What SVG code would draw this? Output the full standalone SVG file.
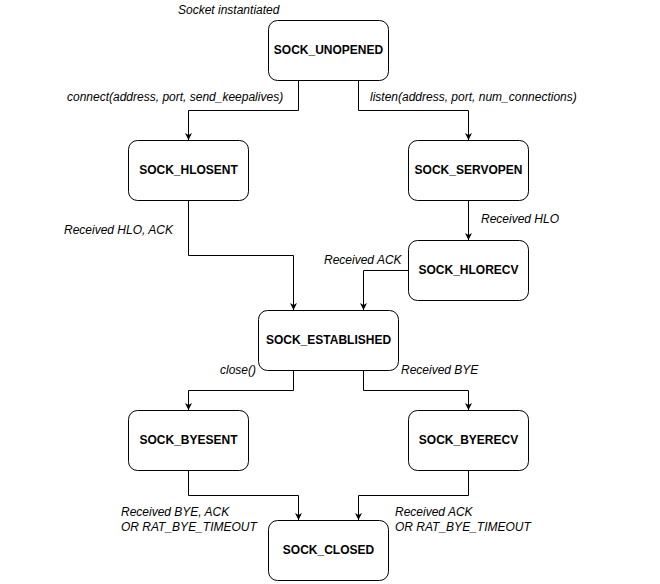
<svg xmlns="http://www.w3.org/2000/svg" width="660" height="584" viewBox="0 0 660 584">
<defs>
<marker id="arr" viewBox="0 0 10 10" refX="10" refY="5" markerWidth="7" markerHeight="7" markerUnits="userSpaceOnUse" orient="auto">
<path d="M0,0 L10,5 L0,10 L3,5 Z" fill="#000"/>
</marker>
<style>
.box{fill:#fff;stroke:#000;stroke-width:1}
.nt{font-family:"Liberation Sans",Arial,sans-serif;font-size:12px;font-weight:bold;text-anchor:middle;fill:#000}
.lb{font-family:"Liberation Sans",Arial,sans-serif;font-size:12px;font-style:italic;fill:#000}
.c{fill:none;stroke:#000;stroke-width:1;marker-end:url(#arr)}
</style>
</defs>
<rect width="660" height="584" fill="#fff"/>
<g id="connectors">
<path class="c" d="M298.5,80 V110.5 H188.5 V140"/>
<path class="c" d="M358.5,80 V110.5 H468.5 V140"/>
<path class="c" d="M188.5,200 V255.5 H293.5 V310"/>
<path class="c" d="M468.5,200 V240"/>
<path class="c" d="M408,270.5 H363.5 V310"/>
<path class="c" d="M293.5,370 V390.5 H188.5 V410"/>
<path class="c" d="M363.5,370 V390.5 H468.5 V410"/>
<path class="c" d="M188.5,470 V495.5 H298.5 V520"/>
<path class="c" d="M468.5,470 V495.5 H358.5 V520"/>
</g>
<g id="labels">
<text class="lb" x="178" y="14">Socket instantiated</text>
<text class="lb" x="67" y="101">connect(address, port, send_keepalives)</text>
<text class="lb" x="370" y="101">listen(address, port, num_connections)</text>
<text class="lb" x="64" y="234">Received HLO, ACK</text>
<text class="lb" x="481" y="223">Received HLO</text>
<text class="lb" x="324" y="264">Received ACK</text>
<text class="lb" x="256" y="374" text-anchor="end">close()</text>
<text class="lb" x="401" y="374">Received BYE</text>
<text class="lb" x="121" y="516">Received BYE, ACK</text>
<text class="lb" x="121" y="531">OR RAT_BYE_TIMEOUT</text>
<text class="lb" x="395" y="516">Received ACK</text>
<text class="lb" x="395" y="531">OR RAT_BYE_TIMEOUT</text>
</g>
<g id="unopened"><rect class="box" x="268.5" y="20.5" width="120" height="60" rx="9"/><text class="nt" x="328.5" y="54">SOCK_UNOPENED</text></g>
<g id="hlosent"><rect class="box" x="128.5" y="140.5" width="120" height="60" rx="9"/><text class="nt" x="188.5" y="174">SOCK_HLOSENT</text></g>
<g id="servopen"><rect class="box" x="408.5" y="140.5" width="120" height="60" rx="9"/><text class="nt" x="468.5" y="174">SOCK_SERVOPEN</text></g>
<g id="hlorecv"><rect class="box" x="408.5" y="240.5" width="120" height="60" rx="9"/><text class="nt" x="468.5" y="274">SOCK_HLORECV</text></g>
<g id="established"><rect class="box" x="258.5" y="310.5" width="140" height="60" rx="9"/><text class="nt" x="328.5" y="344">SOCK_ESTABLISHED</text></g>
<g id="byesent"><rect class="box" x="128.5" y="410.5" width="120" height="60" rx="9"/><text class="nt" x="188.5" y="444">SOCK_BYESENT</text></g>
<g id="byerecv"><rect class="box" x="408.5" y="410.5" width="120" height="60" rx="9"/><text class="nt" x="468.5" y="444">SOCK_BYERECV</text></g>
<g id="closed"><rect class="box" x="268.5" y="520.5" width="120" height="60" rx="9"/><text class="nt" x="328.5" y="554">SOCK_CLOSED</text></g>
</svg>
